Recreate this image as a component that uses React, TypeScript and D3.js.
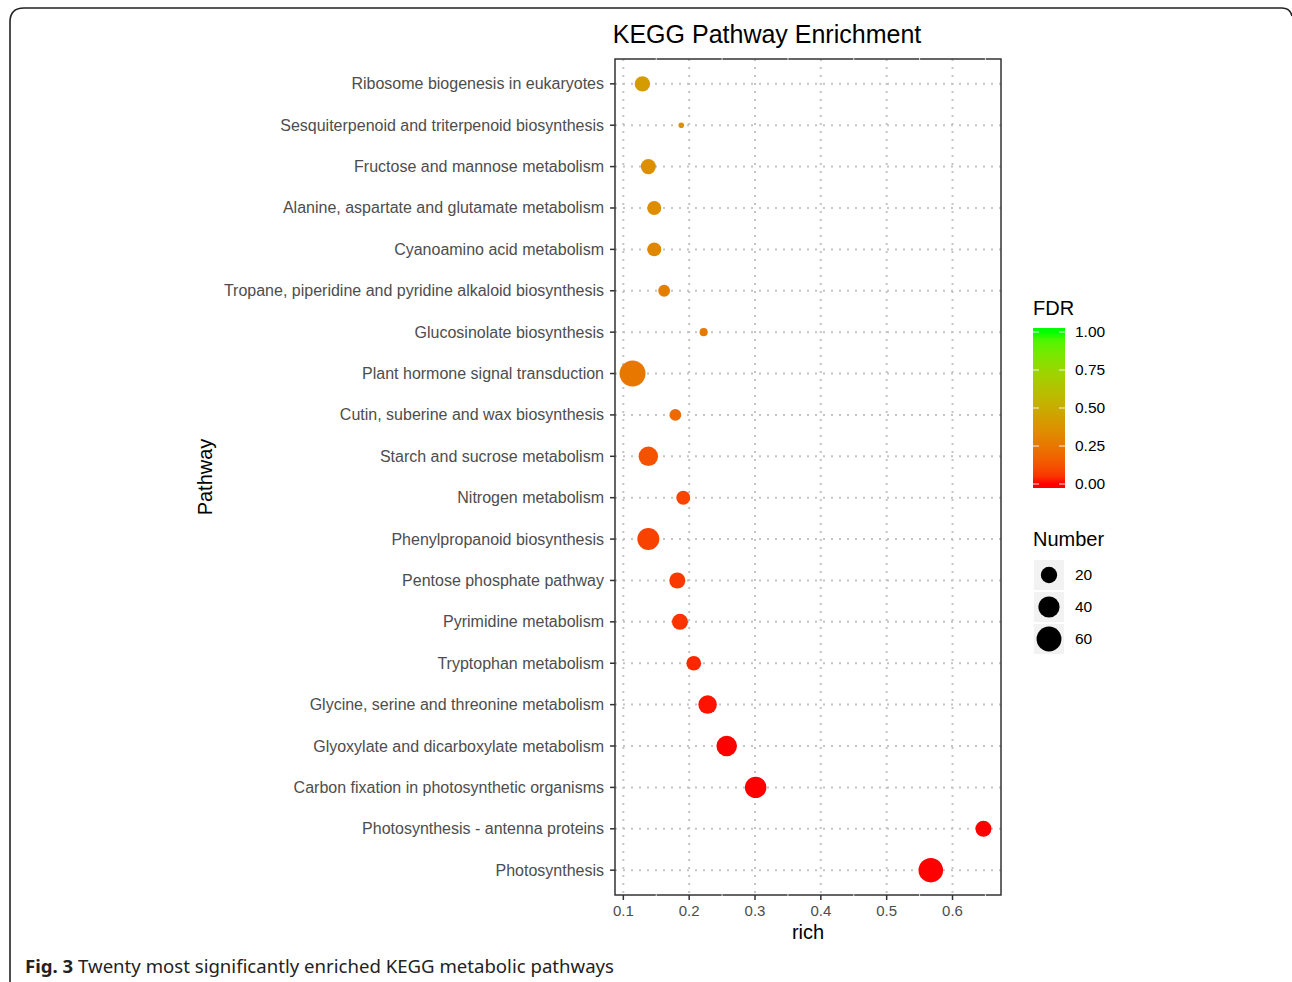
import React from "react";
import * as d3 from "d3";

const pathways = [
  "Ribosome biogenesis in eukaryotes",
  "Sesquiterpenoid and triterpenoid biosynthesis",
  "Fructose and mannose metabolism",
  "Alanine, aspartate and glutamate metabolism",
  "Cyanoamino acid metabolism",
  "Tropane, piperidine and pyridine alkaloid biosynthesis",
  "Glucosinolate biosynthesis",
  "Plant hormone signal transduction",
  "Cutin, suberine and wax biosynthesis",
  "Starch and sucrose metabolism",
  "Nitrogen metabolism",
  "Phenylpropanoid biosynthesis",
  "Pentose phosphate pathway",
  "Pyrimidine metabolism",
  "Tryptophan metabolism",
  "Glycine, serine and threonine metabolism",
  "Glyoxylate and dicarboxylate metabolism",
  "Carbon fixation in photosynthetic organisms",
  "Photosynthesis - antenna proteins",
  "Photosynthesis",
];
const richValues = [0.129, 0.188, 0.138, 0.147, 0.147, 0.162, 0.222, 0.114, 0.179, 0.138, 0.191, 0.138, 0.182, 0.186, 0.207, 0.228, 0.257, 0.301, 0.647, 0.567];
const numberValues = [17, 2, 16, 13, 13, 8, 3, 67, 8, 32, 13, 44, 19, 19, 15, 28, 37, 41, 19, 58];
const fdrValues = [0.42, 0.37, 0.36, 0.34, 0.32, 0.28, 0.26, 0.25, 0.2, 0.12, 0.09, 0.08, 0.06, 0.05, 0.03, 0.01, 0.0, 0.0, 0.0, 0.0];
const xTicks = [0.1, 0.2, 0.3, 0.4, 0.5, 0.6];
const fdrTicks = [0, 0.25, 0.5, 0.75, 1];
const sizeBreaks = [20, 40, 60];

const W = 1292, H = 982;
const panel = { left: 615, right: 1001, top: 59, bottom: 895 };
const font = "'Liberation Sans', Arial, sans-serif";

export default function App() {
  const xMin = d3.min(richValues)!, xMax = d3.max(richValues)!;
  const pad = (xMax - xMin) * 0.05;
  const x = d3.scaleLinear().domain([xMin - pad, xMax + pad]).range([panel.left, panel.right]);
  const y = d3.scalePoint<string>().domain(pathways).range([panel.top, panel.bottom]).padding(0.6);
  const nMin = d3.min(numberValues)!, nMax = d3.max(numberValues)!;
  const rScale = (n: number) => 2.8 + 10.2 * Math.sqrt(Math.max(0, (n - nMin) / (nMax - nMin)));
  const color = d3.scaleLinear<string>().domain([0, 1]).range(["#ff0000", "#00ff00"]).interpolate(d3.interpolateLab);

  const minorX = xTicks.map((t) => t + 0.05).filter((t) => x(t) < panel.right);
  const cb = { x: 1033, w: 32, top: 328, bottom: 488 };
  const cbScale = d3.scaleLinear().domain([0, 1]).range([484, 332]);
  const gradStops = d3.range(0, 1.0001, 0.05);

  return (
    <svg width={W} height={H} style={{ position: "absolute", left: 0, top: 0, background: "#fff" }}>
      <defs>
        <linearGradient id="fdrGrad" x1="0" y1="1" x2="0" y2="0">
          {gradStops.map((t) => (
            <stop key={t} offset={`${((cbScale(t) - cb.bottom) / (cb.top - cb.bottom)) * 100}%`} stopColor={color(t)} />
          ))}
        </linearGradient>
      </defs>
      <rect x={0} y={0} width={W} height={H} fill="#fff" />
      {/* outer frame */}
      <path d={`M10,${H + 2} L10,22 Q10,8 24,8 L1282,8 Q1290,8 1292,16`} fill="none" stroke="#222" strokeWidth={1.6} />

      <text x={767} y={43} textAnchor="middle" fontFamily={font} fontSize={25} fill="#000">KEGG Pathway Enrichment</text>

      {/* panel */}
      <rect x={panel.left} y={panel.top} width={panel.right - panel.left} height={panel.bottom - panel.top} fill="#fff" />
      {minorX.map((t) => (
        <line key={"mx" + t} x1={x(t)} x2={x(t)} y1={panel.top} y2={panel.bottom} stroke="#fff" strokeWidth={1} />
      ))}
      {xTicks.map((t) => (
        <line key={"gx" + t} x1={x(t)} x2={x(t)} y1={panel.top} y2={panel.bottom} stroke="#c4c4c4" strokeWidth={2} strokeDasharray="2,6" />
      ))}
      {pathways.map((p) => (
        <line key={"gy" + p} x1={panel.left} x2={panel.right} y1={y(p)} y2={y(p)} stroke="#c4c4c4" strokeWidth={2} strokeDasharray="2,6" />
      ))}
      {pathways.map((p, i) => (
        <circle key={"pt" + p} cx={x(richValues[i])} cy={y(p)} r={rScale(numberValues[i])} fill={color(fdrValues[i])} />
      ))}
      <rect x={panel.left} y={panel.top} width={panel.right - panel.left} height={panel.bottom - panel.top} fill="none" stroke="#333" strokeWidth={1.5} />
      {minorX.map((t) => (
        <g key={"mxb" + t}>
          <line x1={x(t)} x2={x(t)} y1={panel.top - 1} y2={panel.top + 1} stroke="#ddd" strokeWidth={1} />
          <line x1={x(t)} x2={x(t)} y1={panel.bottom - 1} y2={panel.bottom + 1} stroke="#ddd" strokeWidth={1} />
        </g>
      ))}

      {/* y axis */}
      {pathways.map((p) => (
        <g key={"yl" + p}>
          <line x1={panel.left - 5} x2={panel.left} y1={y(p)} y2={y(p)} stroke="#333" strokeWidth={1.5} />
          <text x={panel.left - 11} y={y(p)! + 5.5} textAnchor="end" fontFamily={font} fontSize={16} fill="#4d4d4d">{p}</text>
        </g>
      ))}
      {/* x axis */}
      {xTicks.map((t) => (
        <g key={"xl" + t}>
          <line x1={x(t)} x2={x(t)} y1={panel.bottom} y2={panel.bottom + 5} stroke="#333" strokeWidth={1.5} />
          <text x={x(t)} y={panel.bottom + 21} textAnchor="middle" fontFamily={font} fontSize={15} fill="#4d4d4d">{t.toFixed(1)}</text>
        </g>
      ))}
      <text x={(panel.left + panel.right) / 2} y={939} textAnchor="middle" fontFamily={font} fontSize={20} fill="#000">rich</text>
      <text transform={`translate(212,${(panel.top + panel.bottom) / 2}) rotate(-90)`} textAnchor="middle" fontFamily={font} fontSize={20} fill="#000">Pathway</text>

      {/* FDR legend */}
      <text x={1033} y={315} fontFamily={font} fontSize={20} fill="#000">FDR</text>
      <rect x={cb.x} y={cb.top} width={cb.w} height={cb.bottom - cb.top} fill="url(#fdrGrad)" />
      {fdrTicks.map((t) => (
        <g key={"cb" + t}>
          <line x1={cb.x} x2={cb.x + 6} y1={cbScale(t)} y2={cbScale(t)} stroke="#fff" strokeWidth={1} opacity={0.9} />
          <line x1={cb.x + cb.w - 6} x2={cb.x + cb.w} y1={cbScale(t)} y2={cbScale(t)} stroke="#fff" strokeWidth={1} opacity={0.9} />
          <text x={1075} y={cbScale(t) + 5} fontFamily={font} fontSize={15.5} fill="#000">{t.toFixed(2)}</text>
        </g>
      ))}

      {/* Number legend */}
      <text x={1033} y={546} fontFamily={font} fontSize={20} fill="#000">Number</text>
      {sizeBreaks.map((n, i) => {
        const cy = 575 + i * 32;
        return (
          <g key={"sz" + n}>
            <rect x={1034} y={cy - 15} width={30} height={30} fill="#f2f2f2" />
            <circle cx={1049} cy={cy} r={rScale(n)} fill="#000" />
            <text x={1075} y={cy + 5} fontFamily={font} fontSize={15.5} fill="#000">{n}</text>
          </g>
        );
      })}

      {/* caption */}
      <text x={25} y={973} fontFamily="'Noto Sans', 'Open Sans', sans-serif" fontSize={18.6} fill="#222">
        <tspan fontWeight="bold">Fig. 3</tspan>
        <tspan> Twenty most significantly enriched KEGG metabolic pathways</tspan>
      </text>
    </svg>
  );
}
